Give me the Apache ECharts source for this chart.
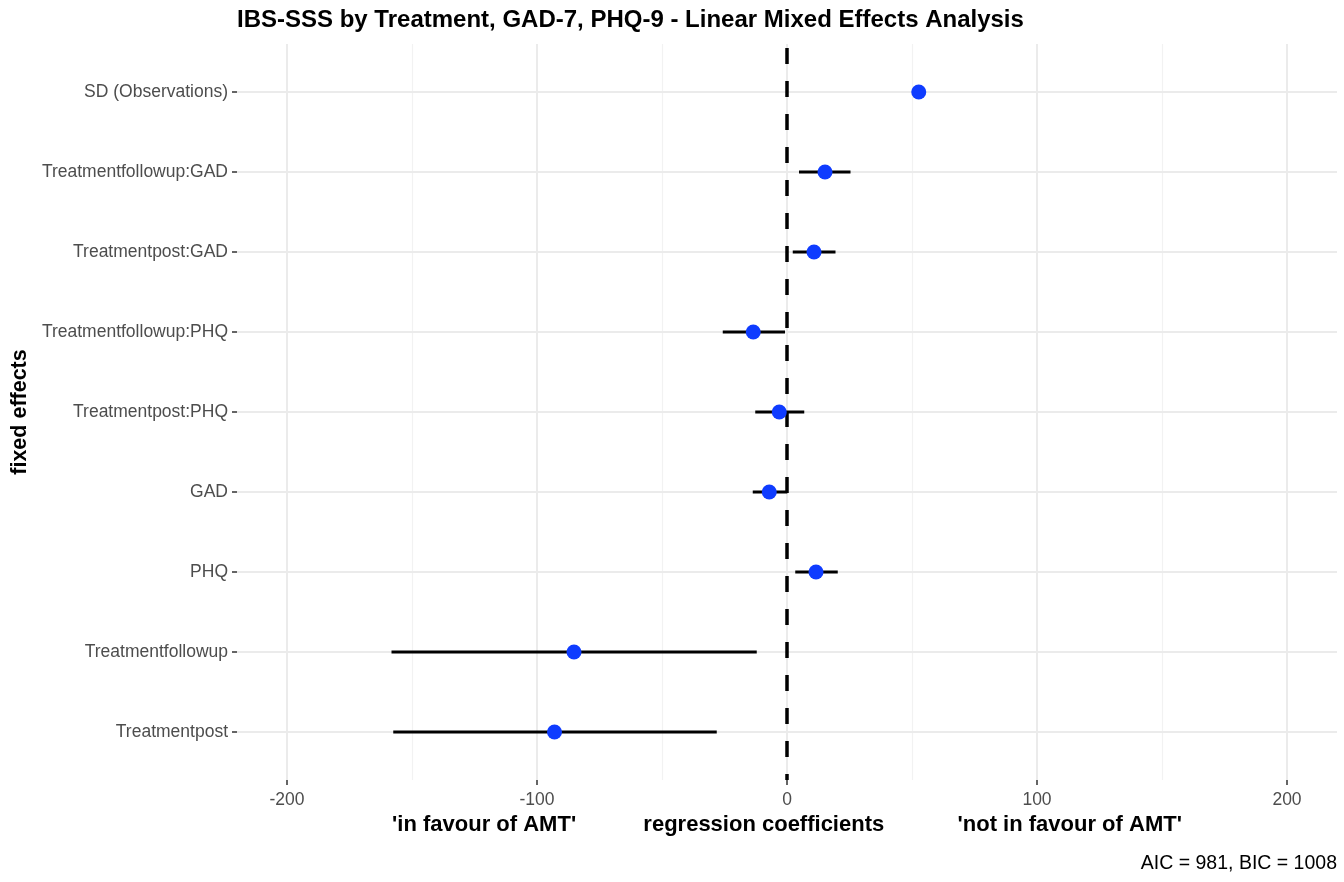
<!DOCTYPE html>
<html>
<head>
<meta charset="utf-8">
<script src="https://cdn.jsdelivr.net/npm/echarts@6/dist/echarts.min.js"></script>
<style>
  html, body { margin: 0; padding: 0; background: #fff; }
  #forest { width: 1344px; height: 882px; }
</style>
</head>
<body>
<div id="forest"></div>
<script>
// fixed effects, bottom to top as drawn
var effectNames = ['Treatmentpost', 'Treatmentfollowup', 'PHQ', 'GAD', 'Treatmentpost:PHQ',
    'Treatmentfollowup:PHQ', 'Treatmentpost:GAD', 'Treatmentfollowup:GAD', 'SD (Observations)'];
var estimates = [-93, -85.2, 11.6, -7.1, -3.1, -13.5, 10.8, 15.2, 52.7];
var ciLow = [-157.5, -158.2, 3.3, -13.7, -12.7, -25.7, 2.3, 4.8, null];
var ciHigh = [-28.1, -12.1, 20.3, 0.1, 6.9, -0.8, 19.4, 25.4, null];
var majorBreaks = [-200, -100, 0, 100, 200];
var minorBreaks = [-150, -50, 50, 150];
var xAxisTitle = "'in favour of AMT'           regression coefficients            'not in favour of AMT'";
var captionText = 'AIC = 981, BIC = 1008';

var FONT = "'Liberation Sans', Arial, Helvetica, sans-serif";

function drawForest() {
    var chartDiv = document.getElementById('forest');
    var myChart = echarts.init(chartDiv, null, { renderer: 'canvas' });

    var rowIdx = effectNames.map(function (n, i) { return i; });
    var points = estimates.map(function (v, i) { return [v, i]; });
    var bars = [];
    for (var i = 0; i < effectNames.length; i++) {
        if (ciLow[i] !== null) bars.push([ciLow[i], ciHigh[i], i]);
    }

    var option = {
        backgroundColor: '#fff',
        animation: false,
        title: {
            text: 'IBS-SSS by Treatment, GAD-7, PHQ-9 - Linear Mixed Effects Analysis',
            left: 237,
            top: 8,
            padding: 0,
            textStyle: { fontFamily: FONT, fontSize: 24, fontWeight: 'bold', color: '#000' }
        },
        grid: { left: 237, right: 7, top: 44, bottom: 102 },
        xAxis: {
            type: 'value',
            min: -220,
            max: 220,
            name: xAxisTitle,
            nameLocation: 'middle',
            nameGap: 32,
            nameTextStyle: { fontFamily: FONT, fontSize: 22, fontWeight: 'bold', color: '#000' },
            axisLine: { show: false, onZero: false },
            axisTick: { show: true, customValues: majorBreaks, length: 5, lineStyle: { color: '#333', width: 1.5 } },
            axisLabel: { customValues: majorBreaks, color: '#4d4d4d', fontFamily: FONT, fontSize: 17.5, margin: 11 },
            splitLine: { show: false }
        },
        yAxis: {
            type: 'value',
            min: -0.6,
            max: 8.6,
            name: 'fixed effects',
            nameLocation: 'middle',
            nameRotate: 90,
            nameGap: 202,
            nameTextStyle: { fontFamily: FONT, fontSize: 21.5, fontWeight: 'bold', color: '#000' },
            axisLine: { show: false, onZero: false },
            axisTick: { show: true, customValues: rowIdx, length: 5, lineStyle: { color: '#333', width: 1.5 } },
            axisLabel: {
                customValues: rowIdx,
                color: '#4d4d4d', fontFamily: FONT, fontSize: 17.5, margin: 9,
                formatter: function (v) { return effectNames[Math.round(v)]; }
            },
            splitLine: { show: false }
        },
        graphic: [{
            type: 'text',
            right: 7,
            top: 854,
            style: { text: captionText, font: '19.5px ' + FONT, fill: '#000' }
        }],
        series: [
            {
                // background grid, ggplot style
                type: 'scatter',
                data: [],
                silent: true,
                z: 0,
                markLine: {
                    silent: true,
                    z: 0,
                    symbol: 'none',
                    label: { show: false },
                    animation: false,
                    data: [].concat(
                        minorBreaks.map(function (v) { return { xAxis: v, lineStyle: { color: '#f2f2f2', width: 1.2, type: 'solid' } }; }),
                        majorBreaks.map(function (v) { return { xAxis: v, lineStyle: { color: '#ebebeb', width: 2, type: 'solid' } }; }),
                        rowIdx.map(function (v) { return { yAxis: v, lineStyle: { color: '#ebebeb', width: 2, type: 'solid' } }; })
                    )
                }
            },
            {
                type: 'scatter',
                data: [],
                silent: true,
                z: 1,
                markLine: {
                    silent: true,
                    z: 1,
                    symbol: 'none',
                    label: { show: false },
                    animation: false,
                    lineStyle: { color: '#000', width: 3.5, type: [16, 17], dashOffset: 10 },
                    data: [{ xAxis: 0 }]
                }
            },
            {
                type: 'custom',
                z: 2,
                data: bars,
                encode: { x: [0, 1], y: 2 },
                renderItem: function (params, api) {
                    var a = api.coord([api.value(0), api.value(2)]);
                    var b = api.coord([api.value(1), api.value(2)]);
                    return {
                        type: 'line',
                        shape: { x1: a[0], y1: a[1], x2: b[0], y2: b[1] },
                        style: { stroke: '#000', lineWidth: 2.8 }
                    };
                }
            },
            {
                type: 'scatter',
                z: 3,
                data: points,
                symbol: 'circle',
                symbolSize: 15,
                itemStyle: { color: '#0f3cff', opacity: 1 }
            }
        ]
    };
    myChart.setOption(option);
}

drawForest();
</script>
</body>
</html>
